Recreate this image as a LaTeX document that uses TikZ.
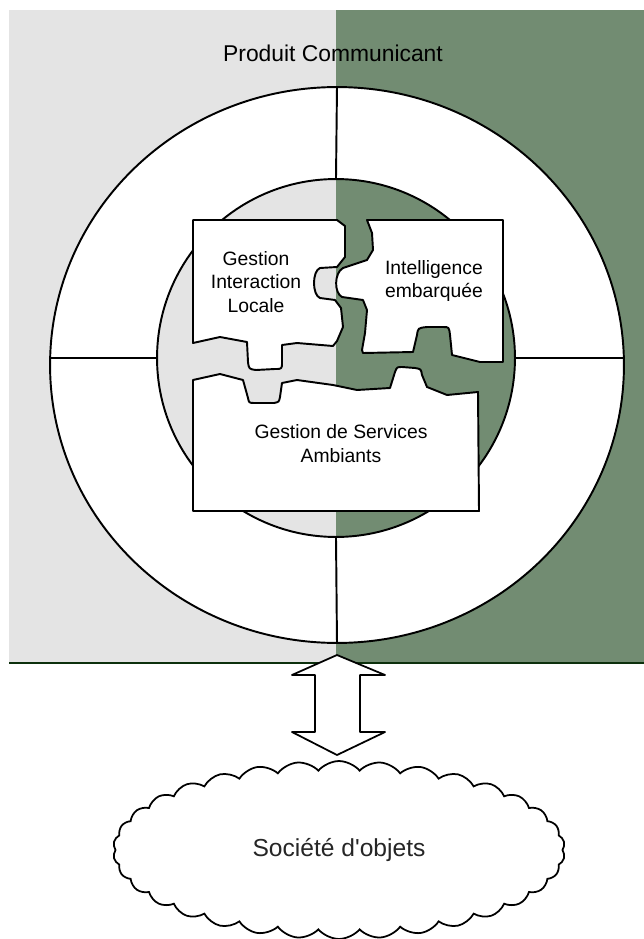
\documentclass[tikz,border=0pt]{standalone}
\usepackage{fontspec}
\setmainfont{Liberation Sans}
\usetikzlibrary{shapes.geometric, shapes.symbols}
\definecolor{pgray}{RGB}{228,228,228}
\definecolor{pchk}{RGB}{114,140,114}
\definecolor{pdark}{RGB}{12,48,12}

\begin{document}
\begin{tikzpicture}[
  x=0.02cm, y=-0.02cm,
  piece/.style={draw, fill=white, line width=1.1pt, line join=round},
  lbl/.style={align=center, font=\fontsize{11}{13.6}\selectfont},
  wire/.style={line width=1.1pt},
  nuage/.style={cloud, cloud puffs=34, cloud puff arc=100, aspect=2.5, draw, fill=white,
    line width=1pt, minimum width=9.04cm, minimum height=3.56cm,
    font=\fontsize{14}{16}\selectfont, text=black!85},
]
  \useasboundingbox (0,0) rectangle (644,939);
  % fond
  \fill[pgray] (9,10) rectangle (336,664);
  \fill[pchk] (336,10) rectangle (644,664);
  \draw[pdark, line width=1.2pt] (9,663) -- (644,663);
  \node (title) at (333,53) {\fontsize{13}{15}\selectfont Produit Communicant};
  % cercles
  \node[ellipse, draw, fill=white, wire, minimum width=11.48cm, minimum height=11.12cm] (outer) at (337,365) {};
  \node[circle, draw, wire, minimum size=7.16cm, path picture={
      \fill[pgray] (path picture bounding box.south west) rectangle (path picture bounding box.north);
      \fill[pchk] (path picture bounding box.north) rectangle (path picture bounding box.south east);
    }] (core) at (336,358) {};
  \draw[wire] (outer.north) -- (core.north);
  \draw[wire] (core.south) -- (outer.south);
  \draw[wire] (outer.west |- core.center) -- (core.west);
  \draw[wire] (core.east) -- (outer.east |- core.center);
  % pieces du puzzle
  \draw[piece] (193,220) -- (337,220) -- (345,226) -- (345,257) -- (337,267) -- (320,268)
    .. controls (312,271) and (312,295) .. (320,298) -- (335,300) -- (341,308) -- (343,327)
    -- (337,341) -- (333,346) -- (297,343) -- (282,345) -- (282,362) .. controls (282,369) .. (275,369)
    -- (256,370) .. controls (249,369) .. (248,362) -- (247,342) -- (220,337) -- (193,343) -- cycle;
  \draw[piece] (367,220) -- (503,220) -- (503,362) -- (480,362) -- (452,355) -- (450,335)
    .. controls (449,327) .. (443,327) -- (427,327) .. controls (418,328) .. (417,335) -- (413,352)
    -- (363,353) -- (362,350) -- (365,333) -- (367,310) -- (363,300) -- (342,297)
    .. controls (334,293) and (334,273) .. (343,268) -- (367,260) -- (373,250) -- (372,233) -- cycle;
  \draw[piece] (193,380) -- (220,374) -- (243,380) -- (248,398) .. controls (249,403) .. (255,403)
    -- (274,403) .. controls (279,402) .. (280,397) -- (282,383) -- (297,380) -- (333,385)
    -- (357,390) -- (390,388) -- (395,372) .. controls (397,367) .. (402,367) -- (415,368)
    .. controls (421,369) .. (422,375) -- (427,387) -- (447,395) -- (478,392) -- (479,511)
    -- (193,511) -- cycle;
  \node[lbl] (gil) at (256,282) {Gestion\\Interaction\\Locale};
  \node[lbl] (ie) at (434,281) {Intelligence\\embarquée};
  \node[lbl] (gsa) at (341,444) {Gestion de Services\\Ambiants};
  % fleche double
  \draw[piece, line width=1pt] (337,655) -- (385,675) -- (360,675) -- (360,732) -- (385,732)
    -- (337,755) -- (292,732) -- (315,732) -- (315,675) -- (292,675) -- cycle;
  % nuage
  \node[nuage] (soc) at (339,850) {Société d\textquotesingle objets};
\end{tikzpicture}
\end{document}
